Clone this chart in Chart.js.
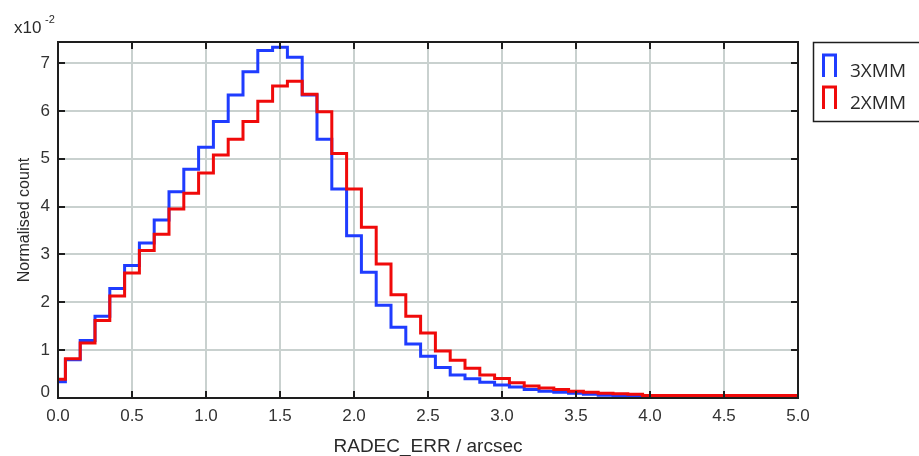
<!DOCTYPE html>
<html>
<head>
<meta charset="utf-8">
<script src="https://cdn.jsdelivr.net/npm/chart.js@4.4.0/dist/chart.umd.min.js"></script>
<style>
html,body{margin:0;padding:0;background:#ffffff;}
#wrap{width:919px;height:456px;position:relative;}
</style>
</head>
<body>
<div id="wrap"><canvas id="c" width="919" height="456"></canvas></div>
<script>
// Bin centres (RADEC_ERR, arcsec)
const binCenters = [0.0,0.1,0.2,0.3,0.4,0.5,0.6,0.7,0.8,0.9,
                    1.0,1.1,1.2,1.3,1.4,1.5,1.6,1.7,1.8,1.9,
                    2.0,2.1,2.2,2.3,2.4,2.5,2.6,2.7,2.8,2.9,
                    3.0,3.1,3.2,3.3,3.4,3.5,3.6,3.7,3.8,3.9,
                    4.0,4.1,4.2,4.3,4.4,4.5,4.6,4.7,4.8,4.9,5.0];
// Normalised counts, in units of 1e-2
const counts3XMM = [0.34,0.80,1.20,1.71,2.29,2.77,3.24,3.72,4.31,4.78,
                    5.24,5.78,6.33,6.82,7.26,7.33,7.12,6.33,5.41,4.37,
                    3.39,2.63,1.94,1.48,1.13,0.87,0.64,0.48,0.40,0.33,
                    0.27,0.23,0.18,0.14,0.12,0.10,0.08,0.06,0.04,0.03,
                    0.00,0.00,0.00,0.00,0.00,0.00,0.00,0.00,0.00,0.00,0.00];
const counts2XMM = [0.39,0.82,1.15,1.62,2.13,2.61,3.08,3.42,3.95,4.28,
                    4.70,5.08,5.41,5.78,6.20,6.52,6.62,6.35,5.98,5.11,
                    4.37,3.57,2.80,2.16,1.71,1.36,0.98,0.79,0.62,0.48,
                    0.41,0.32,0.25,0.21,0.18,0.14,0.12,0.10,0.09,0.08,
                    0.05,0.05,0.05,0.05,0.05,0.05,0.05,0.05,0.05,0.05,0.05];
const xTicks = [0.0,0.5,1.0,1.5,2.0,2.5,3.0,3.5,4.0,4.5,5.0];
const yTicks = [0,1,2,3,4,5,6,7];
const seriesNames = ['3XMM','2XMM'];
const seriesColors = ['#1f3cff','#f00a0a'];

const AXIS_COLOR = '#1e1e1e';
const TEXT_COLOR = '#2a2a2a';

const framePlugin = {
  id: 'frame',
  afterDraw(chart) {
    const ctx = chart.ctx;
    const a = chart.chartArea;
    const xs = chart.scales.x, ys = chart.scales.y;
    ctx.save();
    // inner tick marks
    ctx.strokeStyle = AXIS_COLOR;
    ctx.lineWidth = 2;
    const L = 7;
    ctx.beginPath();
    xTicks.forEach(v => {
      const px = Math.round(xs.getPixelForValue(v));
      ctx.moveTo(px, a.bottom); ctx.lineTo(px, a.bottom - L);
      ctx.moveTo(px, a.top); ctx.lineTo(px, a.top + L);
    });
    yTicks.forEach(v => {
      const py = Math.round(ys.getPixelForValue(v));
      ctx.moveTo(a.left, py); ctx.lineTo(a.left + L, py);
      ctx.moveTo(a.right, py); ctx.lineTo(a.right - L, py);
    });
    ctx.stroke();
    // frame
    ctx.lineWidth = 2;
    ctx.strokeRect(a.left, a.top, a.right - a.left, a.bottom - a.top);

    // exponent label
    ctx.fillStyle = TEXT_COLOR;
    ctx.textBaseline = 'middle';
    ctx.textAlign = 'left';
    ctx.font = '17px "Liberation Sans", Arial, sans-serif';
    ctx.fillText('x10', 14, 28);
    ctx.font = '11px "Liberation Sans", Arial, sans-serif';
    ctx.fillText('-2', 45, 20);

    // legend
    const lx = 813, ly = 42;
    ctx.lineWidth = 1.5;
    ctx.strokeStyle = AXIS_COLOR;
    ctx.strokeRect(lx + 0.5, ly + 0.5, 130, 79);
    const rows = [65, 97];
    seriesNames.forEach((name, i) => {
      const cy = rows[i];
      ctx.strokeStyle = seriesColors[i];
      ctx.lineWidth = 3;
      ctx.beginPath();
      ctx.moveTo(823.5, cy + 12);
      ctx.lineTo(823.5, cy - 10);
      ctx.lineTo(835.5, cy - 10);
      ctx.lineTo(835.5, cy + 12);
      ctx.stroke();
      ctx.fillStyle = TEXT_COLOR;
      ctx.font = '19px "Open Sans", "DejaVu Sans", sans-serif';
      ctx.textAlign = 'left';
      ctx.textBaseline = 'middle';
      ctx.fillText(name, 850, cy + 7);
    });
    ctx.restore();
  }
};

const makeData = (vals) => binCenters.map((x, i) => ({x: x, y: vals[i]}));

new Chart(document.getElementById('c'), {
  type: 'line',
  data: {
    datasets: [
      {
        label: seriesNames[1],
        data: makeData(counts2XMM),
        borderColor: seriesColors[1],
        borderWidth: 3,
        stepped: 'middle',
        pointRadius: 0,
        fill: false,
        order: 0
      },
      {
        label: seriesNames[0],
        data: makeData(counts3XMM),
        borderColor: seriesColors[0],
        borderWidth: 3,
        stepped: 'middle',
        pointRadius: 0,
        fill: false,
        order: 1
      }
    ]
  },
  options: {
    responsive: false,
    animation: false,
    devicePixelRatio: 1,
    layout: { padding: { left: 0, top: 42, right: 121, bottom: 0 } },
    plugins: { legend: { display: false }, tooltip: { enabled: false } },
    scales: {
      x: {
        type: 'linear',
        min: 0, max: 5,
        afterBuildTicks: (s) => { s.ticks = xTicks.map(v => ({value: v})); },
        afterFit: (s) => { s.height = 58; },
        grid: { color: '#c9d1cf', lineWidth: 2, drawTicks: false },
        border: { display: false },
        ticks: {
          padding: 10,
          color: '#333333',
          font: { family: '"Liberation Sans", Arial, sans-serif', size: 17, lineHeight: 1 },
          callback: (v) => Number(v).toFixed(1),
          maxRotation: 0, autoSkip: false
        },
        title: {
          display: true,
          text: 'RADEC_ERR / arcsec',
          color: TEXT_COLOR,
          font: { family: '"Liberation Sans", Arial, sans-serif', size: 19, lineHeight: 1 },
          padding: { top: 0, bottom: 0 }
        }
      },
      y: {
        type: 'linear',
        min: 0, max: 7.44,
        afterBuildTicks: (s) => { s.ticks = yTicks.map(v => ({value: v})); },
        afterFit: (s) => { s.width = 58; },
        grid: { color: '#c9d1cf', lineWidth: 2, drawTicks: false },
        border: { display: false },
        ticks: {
          padding: 8,
          color: '#333333',
          font: { family: '"Liberation Sans", Arial, sans-serif', size: 17, lineHeight: 0.7 },
          callback: (v) => (v === 0 ? ['0', ''] : String(v)),
          autoSkip: false
        },
        title: {
          display: true,
          text: 'Normalised count',
          color: TEXT_COLOR,
          font: { family: '"Liberation Sans", Arial, sans-serif', size: 16, lineHeight: 1.2 },
          padding: { top: 15, bottom: 0 }
        }
      }
    }
  },
  plugins: [framePlugin]
});
</script>
</body>
</html>
